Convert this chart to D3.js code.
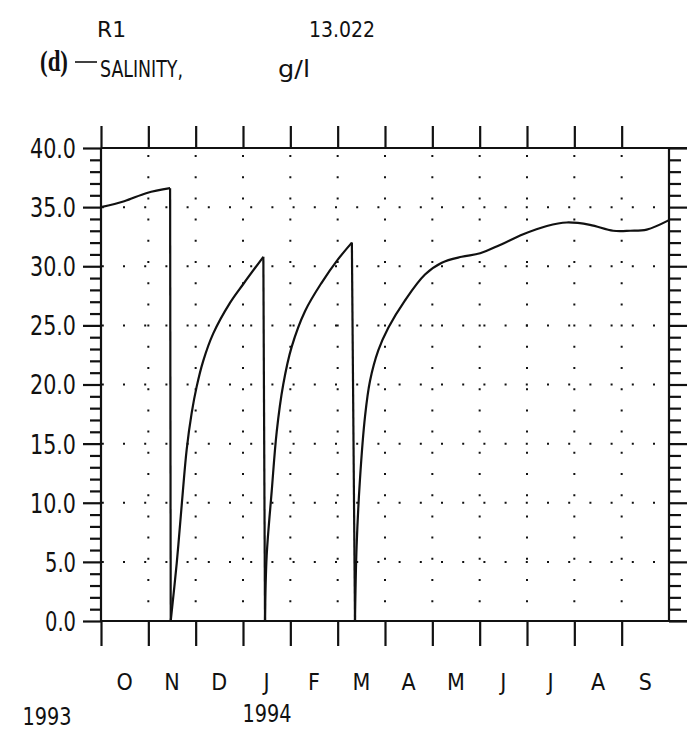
<!DOCTYPE html>
<html>
<head>
<meta charset="utf-8">
<script src="https://cdn.jsdelivr.net/npm/d3@7"></script>
<style>
  html, body { margin: 0; padding: 0; background: #fff; }
  svg { display: block; }
  .plot text { font-family: "DejaVu Sans Condensed", "Liberation Sans Narrow", sans-serif; fill: #111; }
</style>
</head>
<body>
<svg id="chart" width="696" height="734"></svg>
<script>
// ---------------- data ----------------
// x = months elapsed since 1 Oct 1993 (0 .. 12), y = salinity g/l
const monthLabels = ["O", "N", "D", "J", "F", "M", "A", "M", "J", "J", "A", "S"];
const yearLabels = [{ label: "1993", month: -1.66 }, { label: "1994", month: 2.99 }];
const yTickLabels = ["0.0", "5.0", "10.0", "15.0", "20.0", "25.0", "30.0", "35.0", "40.0"];

const segment1 = [[0.0, 35.0], [0.49, 35.5], [0.97, 36.2], [1.46, 36.6]];
const segment2 = [[1.473, 0.0], [1.60, 4.9], [1.705, 9.8], [1.81, 14.5], [1.916, 17.6], [2.02, 19.8],
  [2.16, 22.0], [2.37, 24.3], [2.725, 26.9], [3.007, 28.5], [3.43, 30.8]];
const segment3 = [[3.465, 0.0], [3.50, 5.5], [3.607, 11.0], [3.712, 16.0], [3.85, 20.0], [4.03, 23.2],
  [4.31, 26.2], [4.66, 28.6], [5.01, 30.6], [5.30, 32.0]];
const segment4 = [[5.366, 0.0], [5.40, 6.3], [5.47, 11.9], [5.578, 17.3], [5.683, 20.3], [5.86, 22.9],
  [6.07, 24.8], [6.42, 27.1], [6.845, 29.3], [7.20, 30.3], [7.62, 30.8], [8.01, 31.1], [8.43, 31.8],
  [8.92, 32.7], [9.42, 33.4], [9.84, 33.7], [10.33, 33.5], [10.82, 33.0], [11.18, 33.0], [11.53, 33.1], [12.0, 33.9]];
const segments = [segment1, segment2, segment3, segment4];

// ---------------- layout ----------------
const svg = d3.select("#chart");
const g = svg.append("g").attr("class", "plot");

const x = d3.scaleLinear().domain([0, 12]).range([101, 669]);
const y = d3.scaleLinear().domain([0, 40]).range([621, 148]);

const ink = "#111";
const axisW = 2.2;

// dotted grid
const gridY = d3.range(5, 40, 5);
const gridX = d3.range(1, 12);
g.append("g").selectAll("line").data(gridY).join("line")
  .attr("x1", x(0) + 1).attr("x2", x(12) - 1)
  .attr("y1", d => y(d)).attr("y2", d => y(d))
  .attr("stroke", ink).attr("stroke-width", 2)
  .attr("stroke-dasharray", "2,19.2").attr("stroke-dashoffset", -21);
g.append("g").selectAll("line").data(gridX).join("line")
  .attr("x1", d => x(d)).attr("x2", d => x(d))
  .attr("y1", y(40) + 1).attr("y2", y(0) - 1)
  .attr("stroke", ink).attr("stroke-width", 2)
  .attr("stroke-dasharray", "2,19.2").attr("stroke-dashoffset", -6);

// left axis: minor + major ticks
const minorVals = d3.range(0, 41, 1).filter(v => v % 5 !== 0);
const majorVals = d3.range(0, 41, 5);
const leftMinor = g.append("g").attr("transform", `translate(${x(0)},0)`)
  .call(d3.axisLeft(y).tickValues(minorVals).tickSize(11).tickFormat(""));
const leftMajor = g.append("g").attr("transform", `translate(${x(0)},0)`)
  .call(d3.axisLeft(y).tickValues(majorVals).tickSize(18).tickPadding(7)
    .tickFormat((d, i) => yTickLabels[i]));
// right axis
const rightMinor = g.append("g").attr("transform", `translate(${x(12)},0)`)
  .call(d3.axisRight(y).tickValues(minorVals).tickSize(12).tickFormat(""));
const rightMajor = g.append("g").attr("transform", `translate(${x(12)},0)`)
  .call(d3.axisRight(y).tickValues(majorVals).tickSize(18).tickFormat(""));
// top & bottom month ticks
const monthTicks = d3.range(0, 12);
const topAx = g.append("g").attr("transform", `translate(0,${y(40)})`)
  .call(d3.axisTop(x).tickValues(monthTicks).tickSize(22).tickFormat(""));
const botAx = g.append("g").attr("transform", `translate(0,${y(0)})`)
  .call(d3.axisBottom(x).tickValues(monthTicks).tickSize(25).tickFormat(""));

[leftMinor, leftMajor, rightMinor, rightMajor, topAx, botAx].forEach(a => {
  a.select(".domain").remove();
  a.selectAll(".tick line").attr("stroke", ink).attr("stroke-width", axisW);
});
leftMajor.selectAll(".tick text")
  .attr("font-family", null)
  .attr("font-size", 26).attr("dy", "0.36em")
  .attr("textLength", (d, i) => yTickLabels[i].length > 3 ? 46 : 31)
  .attr("lengthAdjust", "spacingAndGlyphs");

// frame lines
g.append("line").attr("x1", x(0)).attr("x2", x(12) + 18).attr("y1", y(40)).attr("y2", y(40))
  .attr("stroke", ink).attr("stroke-width", axisW);
g.append("line").attr("x1", x(0)).attr("x2", x(12) + 18).attr("y1", y(0)).attr("y2", y(0))
  .attr("stroke", ink).attr("stroke-width", axisW);
g.append("line").attr("x1", x(0)).attr("x2", x(0)).attr("y1", y(40)).attr("y2", y(0))
  .attr("stroke", ink).attr("stroke-width", axisW);
g.append("line").attr("x1", x(12)).attr("x2", x(12)).attr("y1", y(40)).attr("y2", y(0))
  .attr("stroke", ink).attr("stroke-width", axisW);

// salinity curve
const line = d3.line().x(d => x(d[0])).y(d => y(d[1])).curve(d3.curveCatmullRom.alpha(0.5));
segments.forEach((seg, i) => {
  g.append("path").datum(seg).attr("d", line)
    .attr("fill", "none").attr("stroke", ink).attr("stroke-width", 2.2).attr("stroke-linejoin", "round");
  if (i < segments.length - 1) {
    const a = seg[seg.length - 1], b = segments[i + 1][0];
    g.append("line").attr("x1", x(a[0])).attr("y1", y(a[1])).attr("x2", x(b[0])).attr("y2", y(b[1]))
      .attr("stroke", ink).attr("stroke-width", 2.2);
  }
});

// month & year labels
g.append("g").selectAll("text").data(monthLabels).join("text")
  .attr("x", (d, i) => x(i + 0.5)).attr("y", 690)
  .attr("text-anchor", "middle").attr("font-size", 23).text(d => d);
g.append("g").selectAll("text").data(yearLabels).join("text")
  .attr("x", d => x(d.month)).attr("y", (d, i) => i === 0 ? 725 : 722)
  .attr("font-size", 25).attr("textLength", 49).attr("lengthAdjust", "spacingAndGlyphs")
  .text(d => d.label);

// header
g.append("text").attr("x", 97).attr("y", 37).attr("font-size", 22)
  .attr("textLength", 29).attr("lengthAdjust", "spacingAndGlyphs").text("R1");
g.append("text").attr("x", 309).attr("y", 37).attr("font-size", 22)
  .attr("textLength", 66).attr("lengthAdjust", "spacingAndGlyphs").text("13.022");
g.append("text").attr("x", 40).attr("y", 71)
  .style("font-family", "\"Liberation Serif\", \"Times New Roman\", serif")
  .attr("font-weight", "bold").attr("font-size", 30)
  .attr("textLength", 28).attr("lengthAdjust", "spacingAndGlyphs").text("(d)");
g.append("line").attr("x1", 75).attr("x2", 97).attr("y1", 62).attr("y2", 62)
  .attr("stroke", ink).attr("stroke-width", 1.6);
g.append("text").attr("x", 100).attr("y", 77).attr("font-size", 23)
  .attr("textLength", 83).attr("lengthAdjust", "spacingAndGlyphs").text("SALINITY,");
g.append("text").attr("x", 278).attr("y", 77).attr("font-size", 23)
  .attr("textLength", 32).attr("lengthAdjust", "spacingAndGlyphs").text("g/l");
</script>
</body>
</html>
